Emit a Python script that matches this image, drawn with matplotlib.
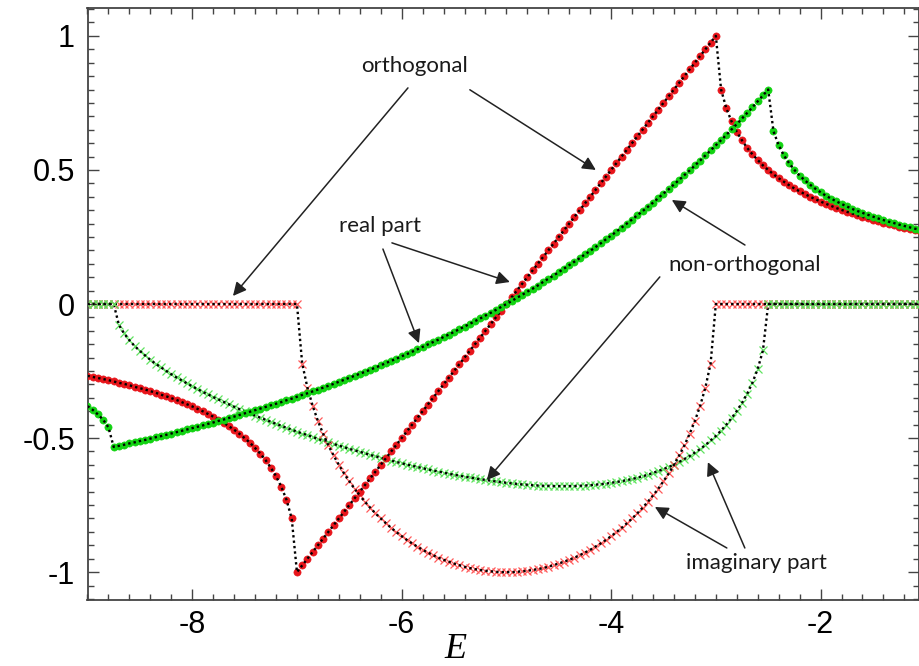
import numpy as np
import matplotlib
matplotlib.use("Agg")
import matplotlib.pyplot as plt
from matplotlib.ticker import MultipleLocator

plt.rcParams['axes.unicode_minus'] = False

# energy grid, step 0.05
energy = np.linspace(-9.0, -1.0, 161)

# orthogonal chain: real part
orth_real = [
    -0.268, -0.272, -0.276, -0.280, -0.284, -0.289, -0.294, -0.298, -0.303, -0.309,
    -0.314, -0.319, -0.325, -0.331, -0.338, -0.344, -0.351, -0.358, -0.366, -0.374,
    -0.382, -0.391, -0.400, -0.410, -0.420, -0.431, -0.443, -0.456, -0.469, -0.484,
    -0.500, -0.517, -0.537, -0.558, -0.582, -0.610, -0.642, -0.681, -0.730, -0.800,
    -1.000, -0.975, -0.950, -0.925, -0.900, -0.875, -0.850, -0.825, -0.800, -0.775,
    -0.750, -0.725, -0.700, -0.675, -0.650, -0.625, -0.600, -0.575, -0.550, -0.525,
    -0.500, -0.475, -0.450, -0.425, -0.400, -0.375, -0.350, -0.325, -0.300, -0.275,
    -0.250, -0.225, -0.200, -0.175, -0.150, -0.125, -0.100, -0.075, -0.050, -0.025,
    0.000, 0.025, 0.050, 0.075, 0.100, 0.125, 0.150, 0.175, 0.200, 0.225,
    0.250, 0.275, 0.300, 0.325, 0.350, 0.375, 0.400, 0.425, 0.450, 0.475,
    0.500, 0.525, 0.550, 0.575, 0.600, 0.625, 0.650, 0.675, 0.700, 0.725,
    0.750, 0.775, 0.800, 0.825, 0.850, 0.875, 0.900, 0.925, 0.950, 0.975,
    1.000, 0.800, 0.730, 0.681, 0.642, 0.610, 0.582, 0.558, 0.537, 0.517,
    0.500, 0.484, 0.469, 0.456, 0.443, 0.431, 0.420, 0.410, 0.400, 0.391,
    0.382, 0.374, 0.366, 0.358, 0.351, 0.344, 0.338, 0.331, 0.325, 0.319,
    0.314, 0.309, 0.303, 0.298, 0.294, 0.289, 0.284, 0.280, 0.276, 0.272,
    0.268,
]

# orthogonal chain: imaginary part
orth_imag = [0.0] * 40 + [
    0.000, -0.222, -0.312, -0.380, -0.436, -0.484, -0.527, -0.565, -0.600, -0.632,
    -0.661, -0.689, -0.714, -0.738, -0.760, -0.781, -0.800, -0.818, -0.835, -0.851,
    -0.866, -0.880, -0.893, -0.905, -0.917, -0.927, -0.937, -0.946, -0.954, -0.961,
    -0.968, -0.974, -0.980, -0.985, -0.989, -0.992, -0.995, -0.997, -0.999, -1.000,
    -1.000, -1.000, -0.999, -0.997, -0.995, -0.992, -0.989, -0.985, -0.980, -0.974,
    -0.968, -0.961, -0.954, -0.946, -0.937, -0.927, -0.917, -0.905, -0.893, -0.880,
    -0.866, -0.851, -0.835, -0.818, -0.800, -0.781, -0.760, -0.738, -0.714, -0.689,
    -0.661, -0.632, -0.600, -0.565, -0.527, -0.484, -0.436, -0.380, -0.312, -0.222,
    0.000,
] + [0.0] * 40

# non-orthogonal chain: real part
nonorth_real = [
    -0.381, -0.395, -0.412, -0.432, -0.460,
    -0.533, -0.529, -0.525, -0.520, -0.516, -0.511, -0.507, -0.502, -0.497, -0.493,
    -0.488, -0.483, -0.478, -0.473, -0.468, -0.463, -0.458, -0.453, -0.447, -0.442,
    -0.436, -0.431, -0.425, -0.420, -0.414, -0.408, -0.402, -0.396, -0.390, -0.384,
    -0.378, -0.372, -0.366, -0.359, -0.353, -0.346, -0.339, -0.333, -0.326, -0.319,
    -0.312, -0.305, -0.298, -0.290, -0.283, -0.275, -0.268, -0.260, -0.253, -0.245,
    -0.237, -0.229, -0.220, -0.212, -0.204, -0.195, -0.187, -0.178, -0.169, -0.160,
    -0.151, -0.142, -0.133, -0.123, -0.114, -0.104, -0.094, -0.084, -0.074, -0.064,
    -0.054, -0.043, -0.033, -0.022, -0.011, 0.000, 0.011, 0.023, 0.034, 0.046,
    0.057, 0.069, 0.082, 0.094, 0.106, 0.119, 0.132, 0.145, 0.158, 0.171,
    0.185, 0.198, 0.212, 0.226, 0.241, 0.255, 0.270, 0.285, 0.300, 0.315,
    0.331, 0.346, 0.362, 0.378, 0.395, 0.412, 0.428, 0.446, 0.463, 0.481,
    0.498, 0.517, 0.535, 0.554, 0.573, 0.592, 0.611, 0.631, 0.651, 0.671,
    0.692, 0.713, 0.734, 0.756, 0.778, 0.800,
    0.645, 0.592, 0.554, 0.525, 0.500, 0.479, 0.461, 0.445, 0.430, 0.417,
    0.404, 0.393, 0.383, 0.373, 0.364, 0.355, 0.347, 0.340, 0.333, 0.326,
    0.319, 0.313, 0.307, 0.302, 0.296, 0.291, 0.286, 0.281, 0.277, 0.272,
]

# non-orthogonal chain: imaginary part
nonorth_imag = [0.0] * 5 + [
    0.000, -0.078, -0.110, -0.135, -0.157, -0.175, -0.192, -0.208, -0.223, -0.236,
    -0.249, -0.262, -0.274, -0.285, -0.296, -0.307, -0.317, -0.328, -0.337, -0.347,
    -0.356, -0.365, -0.374, -0.383, -0.392, -0.400, -0.408, -0.416, -0.424, -0.432,
    -0.439, -0.447, -0.454, -0.462, -0.469, -0.476, -0.483, -0.489, -0.496, -0.503,
    -0.509, -0.515, -0.522, -0.528, -0.534, -0.540, -0.546, -0.551, -0.557, -0.563,
    -0.568, -0.573, -0.579, -0.584, -0.589, -0.594, -0.599, -0.603, -0.608, -0.612,
    -0.617, -0.621, -0.625, -0.629, -0.633, -0.637, -0.640, -0.644, -0.647, -0.650,
    -0.654, -0.656, -0.659, -0.662, -0.664, -0.667, -0.669, -0.671, -0.673, -0.674,
    -0.676, -0.677, -0.678, -0.678, -0.679, -0.679, -0.679, -0.679, -0.679, -0.678,
    -0.677, -0.676, -0.674, -0.672, -0.670, -0.667, -0.664, -0.661, -0.657, -0.653,
    -0.648, -0.643, -0.637, -0.630, -0.623, -0.616, -0.608, -0.599, -0.589, -0.578,
    -0.567, -0.554, -0.541, -0.526, -0.509, -0.492, -0.472, -0.450, -0.426, -0.399,
    -0.369, -0.334, -0.293, -0.242, -0.173, 0.000,
] + [0.0] * 30

RED = '#e8151b'
RED_X = '#ff5a5a'
GREEN = '#12d312'
GREEN_X = '#5fe35f'
DOTS = (0, (1.0, 1.3))


def draw_series(ax, x, y, color, marker, ms, mew=0.0, z=2):
    if marker == 'o':
        ax.plot(x, y, ls='none', marker='o', ms=ms, mfc=color, mec=color,
                mew=0.4, zorder=z)
    else:
        ax.plot(x, y, ls='none', marker='x', ms=ms, color=color, mew=mew,
                zorder=z)
    ax.plot(x, y, ls=DOTS, color='black', lw=1.7, zorder=z + 0.5)


fig = plt.figure(figsize=(9.19, 6.66), dpi=100)
ax = fig.add_axes([87.5 / 919, 66 / 666, (919 - 87.5) / 919, 592 / 666])

e = energy
nonorth_imag_arr = np.array(nonorth_imag)
draw_series(ax, e, nonorth_imag, GREEN_X, 'x', 5.5, mew=0.9, z=2)
draw_series(ax, e, orth_imag, RED_X, 'x', 5.5, mew=0.9, z=3)
# outside the non-orthogonal band its zero line lies on top
for part in (e < -8.74, e > -2.52):
    draw_series(ax, e[part], nonorth_imag_arr[part], GREEN_X, 'x', 5.5,
                mew=0.9, z=4)
draw_series(ax, e, orth_real, RED, 'o', 5.2, z=5)
draw_series(ax, e, nonorth_real, GREEN, 'o', 5.2, z=6)

ax.set_xlim(-9.0, -1.06)
ax.set_ylim(-1.104, 1.104)
ax.set_xticks([-8, -6, -4, -2])
ax.set_xticklabels(['-8', '-6', '-4', '-2'])
ax.set_yticks([-1, -0.5, 0, 0.5, 1])
ax.set_yticklabels(['-1', '-0.5', '0', '0.5', '1'])
ax.xaxis.set_minor_locator(MultipleLocator(0.2))
ax.yaxis.set_minor_locator(MultipleLocator(0.05))
ax.tick_params(which='both', direction='in', top=True, right=True,
               color='#444444', width=1.0)
ax.tick_params(which='major', length=8, labelsize=22, pad=9)
ax.tick_params(axis='x', which='major', pad=7)
ax.tick_params(which='minor', length=4)
for lab in ax.get_xticklabels() + ax.get_yticklabels():
    lab.set_fontfamily('Liberation Sans')
for sp in ax.spines.values():
    sp.set_color('#444444')
    sp.set_linewidth(1.3)

fig.text(455 / 919, 1 - 650 / 666, 'E', fontfamily='Liberation Serif',
         style='italic', fontsize=26, ha='center', va='center')

# labels with arrows
arrow_kw = dict(arrowstyle='-|>', color='#222222', lw=1.1, mutation_scale=20,
                shrinkA=0, shrinkB=0)
notes = [
    ('orthogonal', (-5.873, 0.888),
     [((-5.940, 0.806), (-7.611, 0.030)), ((-5.349, 0.799), (-4.146, 0.500))]),
    ('real part', (-6.208, 0.291),
     [((-6.179, 0.205), (-5.835, -0.146)), ((-6.093, 0.228), (-4.967, 0.082))]),
    ('non-orthogonal', (-2.722, 0.146),
     [((-2.722, 0.220), (-3.420, 0.388)), ((-3.535, 0.101), (-5.187, -0.657))]),
    ('imaginary part', (-2.608, -0.966),
     [((-2.895, -0.910), (-3.582, -0.757)), ((-2.723, -0.910), (-3.076, -0.590))]),
]
for text, pos, arrows in notes:
    ax.text(pos[0], pos[1], text, fontfamily='Lato', fontsize=16,
            ha='center', va='center', color='#1a1a1a', zorder=10)
    for tail, head in arrows:
        ax.annotate('', xy=head, xytext=tail, arrowprops=arrow_kw, zorder=10)

fig.savefig('out.png', dpi=100)
